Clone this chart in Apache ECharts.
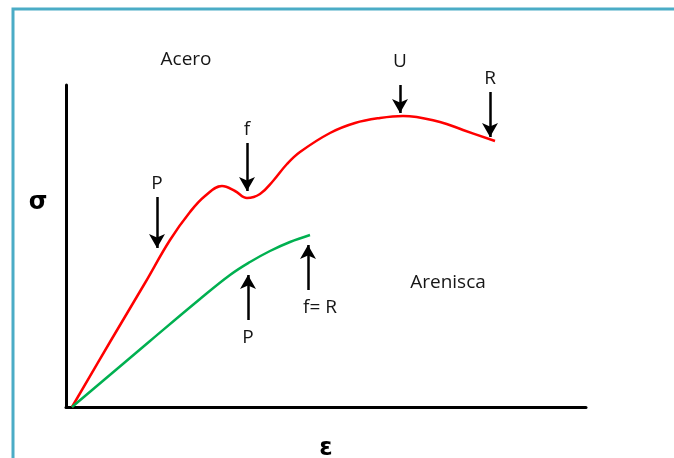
<!DOCTYPE html>
<html>
<head>
<meta charset="utf-8">
<script src="https://cdn.jsdelivr.net/npm/echarts@6/dist/echarts.min.js"></script>
<style>
html, body { margin: 0; padding: 0; background: #fff; }
#chart { width: 674px; height: 458px; }
</style>
</head>
<body>
<div id="chart"></div>
<script>
// strain (x) / stress (y), arbitrary units
var aceroX = [0.6, 4.4, 7.9, 10.4, 12.4, 13.9, 15.6, 16.9, 18.1, 19.4, 20.7, 22.1, 23.4, 26.4, 28.9, 31.4, 33.7, 37.4, 39.7, 42.9];
var aceroY = [0, 6.5, 12.4, 16.7, 19.5, 21.1, 22.1, 21.6, 20.9, 21.3, 22.6, 24.3, 25.5, 27.4, 28.4, 28.9, 29.1, 28.5, 27.7, 26.6];
var areniscaX = [0.6, 8.4, 13.4, 16.4, 18.4, 20.4, 22.4, 24.4];
var areniscaY = [0, 6.6, 10.8, 13.2, 14.5, 15.6, 16.5, 17.2];

// arrows: label, x, tail y, head y (first four on Acero, last two on Arenisca)
var arrowNames = ['P', 'f', 'U', 'R', 'P', 'f= R'];
var arrowX = [9.1, 18.1, 33.4, 42.4, 18.2, 24.2];
var arrowFrom = [21.0, 26.4, 32.2, 31.5, 8.7, 11.7];
var arrowTo = [15.9, 21.6, 29.4, 27.0, 13.2, 16.2];

var textFont = 'Open Sans';
var textColor = '#161616';

function pairs(xs, ys) {
    var out = [];
    for (var i = 0; i < xs.length; i++) out.push([xs[i], ys[i]]);
    return out;
}

function arrows(from, to) {
    var out = [];
    for (var i = from; i < to; i++) {
        var start = { coord: [arrowX[i], arrowFrom[i]], name: arrowNames[i] };
        var lbl = {};
        if (arrowFrom[i] < arrowTo[i]) lbl.distance = 8;      // labels under the upward arrows
        if (arrowNames[i] == 'f= R') lbl.padding = [0, 0, 0, 24];
        if (arrowNames[i] == 'U') lbl.distance = 14;
        start.label = lbl;
        out.push([start, { coord: [arrowX[i], arrowTo[i]] }]);
    }
    return out;
}

function arrowMarks(list) {
    return {
        silent: true,
        animation: false,
        symbol: ['none', 'arrow'],
        symbolSize: [12, 14],
        lineStyle: { color: '#000', width: 2.5, type: 'solid' },
        label: {
            show: true,
            position: 'start',
            distance: 4,
            formatter: '{b}',
            color: textColor,
            fontFamily: textFont,
            fontSize: 19
        },
        emphasis: { disabled: true },
        data: list
    };
}

var myChart = echarts.init(document.getElementById('chart'));
var option = {
    animation: false,
    backgroundColor: '#fff',
    grid: { left: 66, right: 88, top: 85, bottom: 51, outerBoundsMode: 'none', containLabel: false },
    xAxis: {
        type: 'value',
        min: 0,
        max: 52,
        axisLine: { show: true, lineStyle: { color: '#000', width: 3 } },
        axisTick: { show: false },
        axisLabel: { show: false },
        splitLine: { show: false },
        name: 'ε',
        nameLocation: 'middle',
        nameGap: 30,
        nameTextStyle: { fontSize: 24, fontWeight: 'bold', color: '#000', fontFamily: 'DejaVu Sans' }
    },
    yAxis: {
        type: 'value',
        min: 0,
        max: 32.2,
        axisLine: { show: true, lineStyle: { color: '#000', width: 3 } },
        axisTick: { show: false },
        axisLabel: { show: false },
        splitLine: { show: false }
    },
    graphic: [
        // outer frame
        { type: 'rect', shape: { x: 13, y: 9, width: 700, height: 500 }, style: { fill: 'none', stroke: '#4bacc6', lineWidth: 3 } },
        { type: 'text', x: 38, y: 203, style: { text: 'σ', fontSize: 24, fontWeight: 'bold', fill: '#000', fontFamily: 'DejaVu Sans', align: 'center', verticalAlign: 'middle' } },
        { type: 'text', x: 186, y: 60, style: { text: 'Acero', fontSize: 19, fill: textColor, fontFamily: textFont, align: 'center', verticalAlign: 'middle' } },
        { type: 'text', x: 448, y: 283, style: { text: 'Arenisca', fontSize: 19, fill: textColor, fontFamily: textFont, align: 'center', verticalAlign: 'middle' } }
    ],
    series: [
        {
            name: 'Acero',
            type: 'line',
            data: pairs(aceroX, aceroY),
            smooth: 0.4,
            showSymbol: false,
            clip: false,
            lineStyle: { color: '#ff0000', width: 2.5 },
            emphasis: { disabled: true },
            markLine: arrowMarks(arrows(0, 4))
        },
        {
            name: 'Arenisca',
            type: 'line',
            data: pairs(areniscaX, areniscaY),
            smooth: 0.4,
            showSymbol: false,
            clip: false,
            lineStyle: { color: '#00b050', width: 2.5 },
            emphasis: { disabled: true },
            markLine: arrowMarks(arrows(4, 6))
        }
    ]
};
myChart.setOption(option);
</script>
</body>
</html>
